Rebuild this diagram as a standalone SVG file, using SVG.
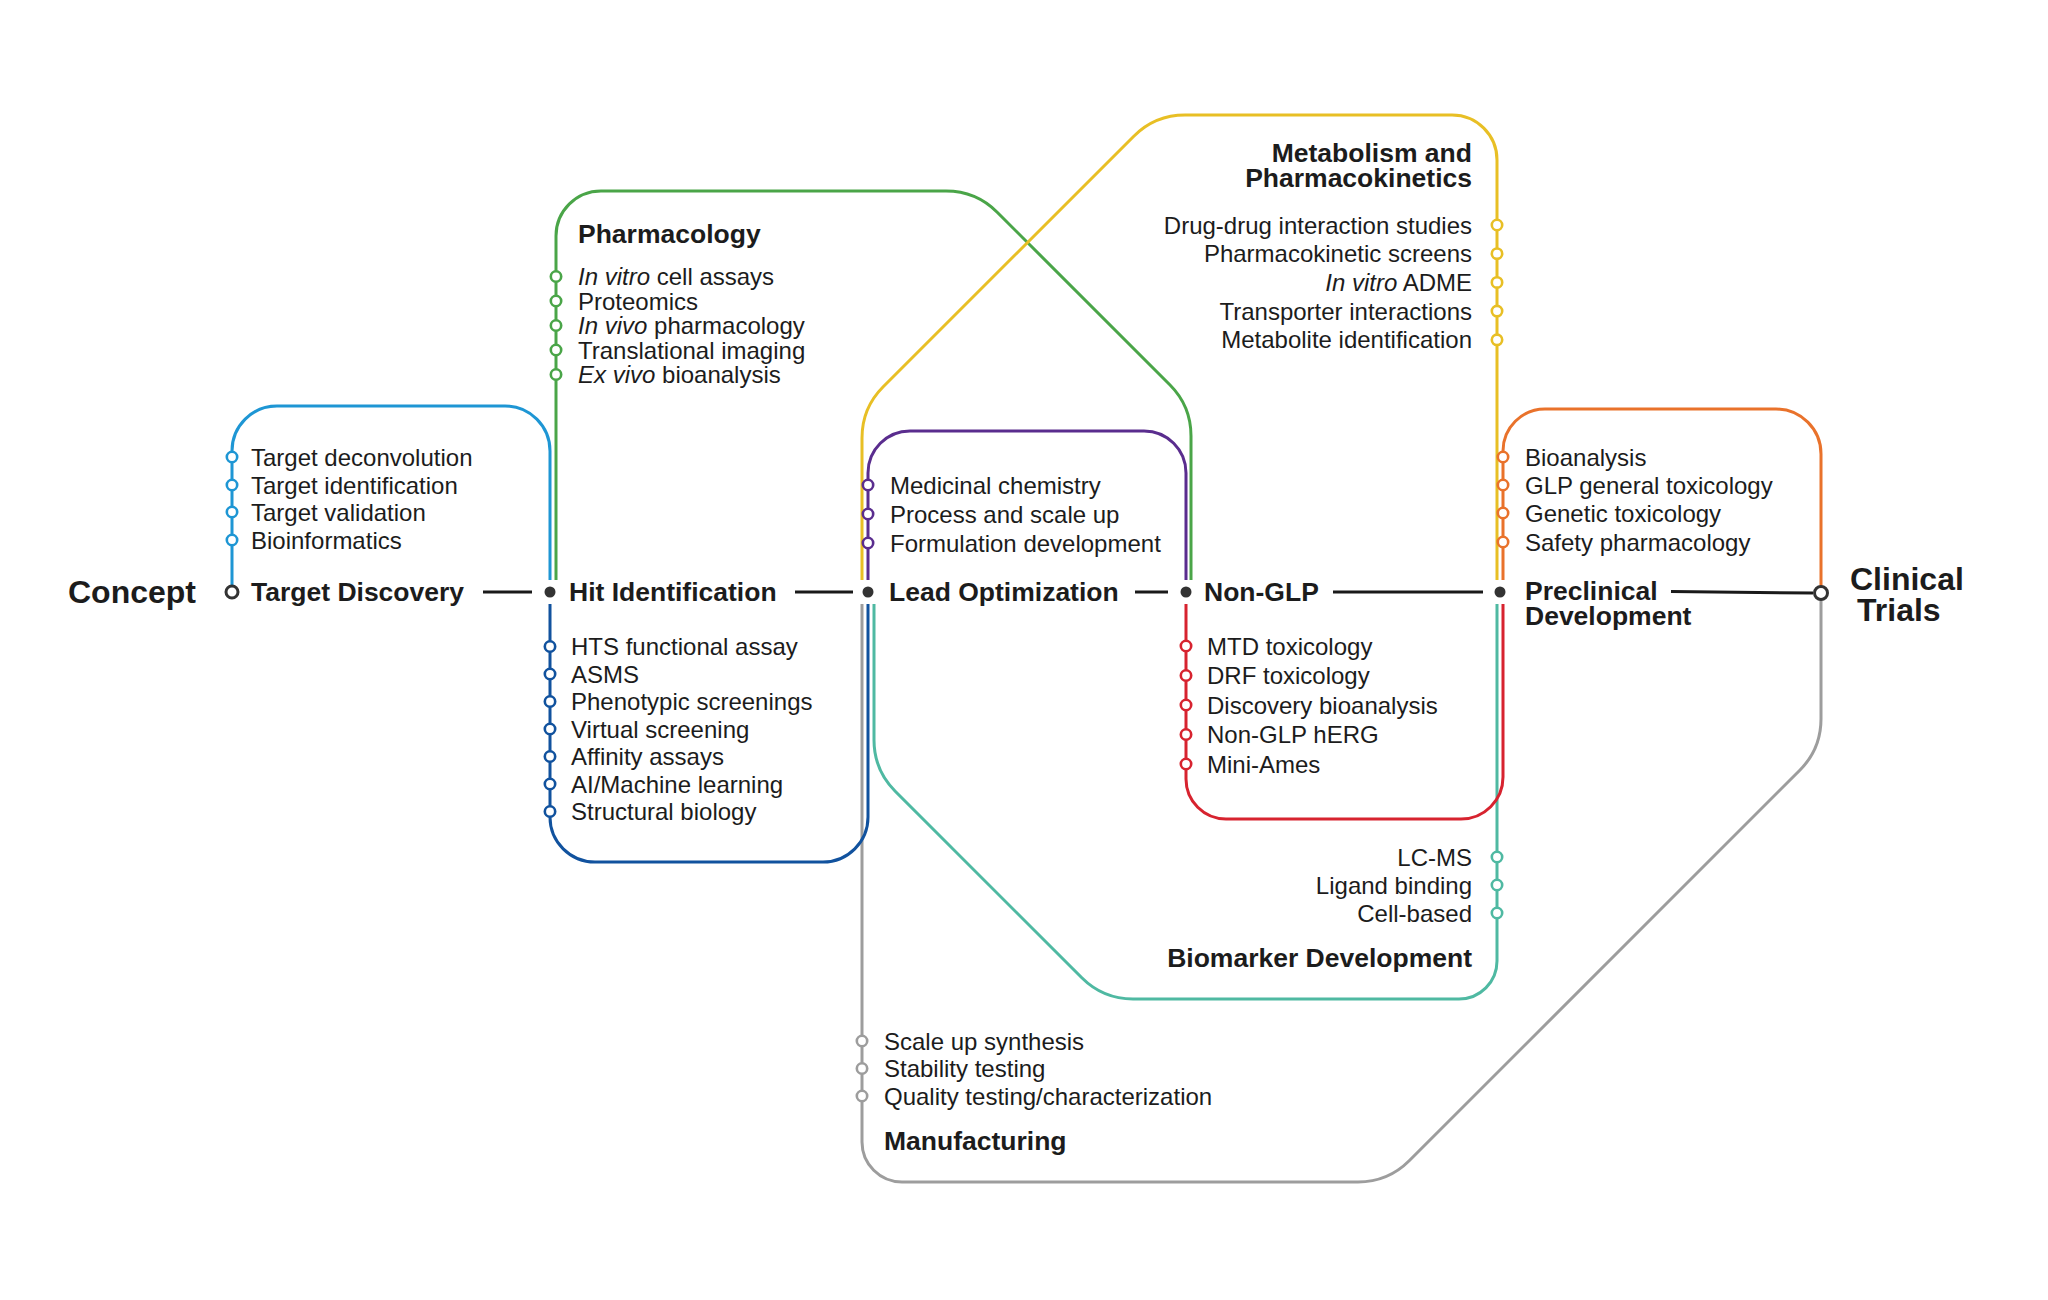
<svg xmlns="http://www.w3.org/2000/svg" width="2048" height="1300" viewBox="0 0 2048 1300">
<style>
.r{fill:none;stroke-width:3}
.st{fill:#fff;stroke-width:2.6}
.t{font-family:"Liberation Sans",Arial,sans-serif;font-size:24px;fill:#1c1c1c}
.e{text-anchor:end}
.h{font-family:"Liberation Sans",Arial,sans-serif;font-weight:bold;font-size:26.5px;fill:#1c1c1c}
.big{font-family:"Liberation Sans",Arial,sans-serif;font-weight:bold;font-size:32px;fill:#1c1c1c}
.i{font-style:italic}
.dot{fill:#333}
.lb{stroke:#1e96d4}.gr{stroke:#4aa548}.db{stroke:#11529e}.ye{stroke:#e8bf25}.pu{stroke:#5a2d8e}.re{stroke:#d7232f}.or{stroke:#e9722b}.te{stroke:#4fb9a2}.ga{stroke:#9d9d9d}
.main{stroke:#1a1a1a;stroke-width:3;fill:none}
</style>
<rect width="2048" height="1300" fill="#fff"/>
<g id="connectors">
<path class="r lb" d="M232,585 L232,451 A45,45 0 0 1 277,406 L505,406 A45,45 0 0 1 550,451 L550,580"/>
<path class="r gr" d="M556,580 L556,236 A45,45 0 0 1 601,191 L946,191 Q976,191 997.2,212.2 L1169.8,384.8 Q1191,406 1191,436 L1191,580"/>
<path class="r ye" d="M862,580 L862,438 Q862,408 883.2,386.8 L1133.8,136.2 Q1155,115 1185,115 L1452,115 A45,45 0 0 1 1497,160 L1497,580"/>
<path class="r pu" d="M868,580 L868,473 A42,42 0 0 1 910,431 L1144,431 A42,42 0 0 1 1186,473 L1186,580"/>
<path class="r or" d="M1503,580 L1503,451 A42,42 0 0 1 1545,409 L1776,409 A45,45 0 0 1 1821,454 L1821,586"/>
<path class="r ga" d="M862,604 L862,1142 A40,40 0 0 0 902,1182 L1358,1182 Q1388,1182 1409.2,1160.8 L1799.8,770.2 Q1821,749 1821,719 L1821,600"/>
<path class="r db" d="M550,604 L550,817 A45,45 0 0 0 595,862 L823,862 A45,45 0 0 0 868,817 L868,604"/>
<path class="r te" d="M874,604 L874,740 Q874,770 895.2,791.2 L1081.8,977.8 Q1103,999 1133,999 L1459,999 A38,38 0 0 0 1497,961 L1497,604"/>
<path class="r re" d="M1186,604 L1186,779 A40,40 0 0 0 1226,819 L1461,819 A42,42 0 0 0 1503,777 L1503,604"/>
<path class="main" d="M483,592 L532,592 M795,592 L853,592 M1135,592 L1168,592 M1333,592 L1483,592 M1671,591.5 L1813,593"/>
</g>
<g id="concept"><text class="big" x="68" y="603">Concept</text></g>
<g id="target-discovery">
<circle cx="232" cy="592" r="6" fill="#fff" stroke="#333" stroke-width="3"/>
<text class="h" x="251" y="601">Target Discovery</text>
<g class="lb"><circle class="st" cx="232" cy="457" r="5.2"/><circle class="st" cx="232" cy="485" r="5.2"/><circle class="st" cx="232" cy="512" r="5.2"/><circle class="st" cx="232" cy="540" r="5.2"/></g>
<text class="t" x="251" y="465.5">Target deconvolution</text>
<text class="t" x="251" y="493.5">Target identification</text>
<text class="t" x="251" y="520.5">Target validation</text>
<text class="t" x="251" y="548.5">Bioinformatics</text>
</g>
<g id="pharmacology">
<text class="h" x="578" y="243">Pharmacology</text>
<g class="gr"><circle class="st" cx="556" cy="276.5" r="5.2"/><circle class="st" cx="556" cy="301" r="5.2"/><circle class="st" cx="556" cy="325.5" r="5.2"/><circle class="st" cx="556" cy="350" r="5.2"/><circle class="st" cx="556" cy="374.5" r="5.2"/></g>
<text class="t" x="578" y="285"><tspan class="i">In vitro</tspan> cell assays</text>
<text class="t" x="578" y="309.5">Proteomics</text>
<text class="t" x="578" y="334"><tspan class="i">In vivo</tspan> pharmacology</text>
<text class="t" x="578" y="358.5">Translational imaging</text>
<text class="t" x="578" y="383"><tspan class="i">Ex vivo</tspan> bioanalysis</text>
</g>
<g id="hit-identification">
<circle class="dot" cx="550" cy="592" r="5.5"/>
<text class="h" x="569" y="601">Hit Identification</text>
<g class="db"><circle class="st" cx="550" cy="646.5" r="5.2"/><circle class="st" cx="550" cy="674" r="5.2"/><circle class="st" cx="550" cy="701.5" r="5.2"/><circle class="st" cx="550" cy="729" r="5.2"/><circle class="st" cx="550" cy="756.5" r="5.2"/><circle class="st" cx="550" cy="784" r="5.2"/><circle class="st" cx="550" cy="811.5" r="5.2"/></g>
<text class="t" x="571" y="655">HTS functional assay</text>
<text class="t" x="571" y="682.5">ASMS</text>
<text class="t" x="571" y="710">Phenotypic screenings</text>
<text class="t" x="571" y="737.5">Virtual screening</text>
<text class="t" x="571" y="765">Affinity assays</text>
<text class="t" x="571" y="792.5">AI/Machine learning</text>
<text class="t" x="571" y="820">Structural biology</text>
</g>
<g id="lead-optimization">
<circle class="dot" cx="868" cy="592" r="5.5"/>
<text class="h" x="889" y="601">Lead Optimization</text>
<g class="pu"><circle class="st" cx="868" cy="485" r="5.2"/><circle class="st" cx="868" cy="514" r="5.2"/><circle class="st" cx="868" cy="543" r="5.2"/></g>
<text class="t" x="890" y="493.5">Medicinal chemistry</text>
<text class="t" x="890" y="522.5">Process and scale up</text>
<text class="t" x="890" y="551.5">Formulation development</text>
</g>
<g id="metabolism-pharmacokinetics">
<text class="h e" x="1472" y="162">Metabolism and</text>
<text class="h e" x="1472" y="187">Pharmacokinetics</text>
<g class="ye"><circle class="st" cx="1497" cy="225" r="5.2"/><circle class="st" cx="1497" cy="253.7" r="5.2"/><circle class="st" cx="1497" cy="282.4" r="5.2"/><circle class="st" cx="1497" cy="311.1" r="5.2"/><circle class="st" cx="1497" cy="339.8" r="5.2"/></g>
<text class="t e" x="1472" y="233.5">Drug-drug interaction studies</text>
<text class="t e" x="1472" y="262.2">Pharmacokinetic screens</text>
<text class="t e" x="1472" y="290.9"><tspan class="i">In vitro</tspan> ADME</text>
<text class="t e" x="1472" y="319.6">Transporter interactions</text>
<text class="t e" x="1472" y="348.3">Metabolite identification</text>
</g>
<g id="non-glp">
<circle class="dot" cx="1186" cy="592" r="5.5"/>
<text class="h" x="1204" y="601">Non-GLP</text>
<g class="re"><circle class="st" cx="1186" cy="646" r="5.2"/><circle class="st" cx="1186" cy="675.5" r="5.2"/><circle class="st" cx="1186" cy="705" r="5.2"/><circle class="st" cx="1186" cy="734.5" r="5.2"/><circle class="st" cx="1186" cy="764" r="5.2"/></g>
<text class="t" x="1207" y="654.5">MTD toxicology</text>
<text class="t" x="1207" y="684">DRF toxicology</text>
<text class="t" x="1207" y="713.5">Discovery bioanalysis</text>
<text class="t" x="1207" y="743">Non-GLP hERG</text>
<text class="t" x="1207" y="772.5">Mini-Ames</text>
</g>
<g id="preclinical-development">
<circle class="dot" cx="1500" cy="592" r="5.5"/>
<text class="h" x="1525" y="600">Preclinical</text>
<text class="h" x="1525" y="625">Development</text>
<g class="or"><circle class="st" cx="1503" cy="457" r="5.2"/><circle class="st" cx="1503" cy="485" r="5.2"/><circle class="st" cx="1503" cy="513" r="5.2"/><circle class="st" cx="1503" cy="542" r="5.2"/></g>
<text class="t" x="1525" y="465.5">Bioanalysis</text>
<text class="t" x="1525" y="493.5">GLP general toxicology</text>
<text class="t" x="1525" y="521.5">Genetic toxicology</text>
<text class="t" x="1525" y="550.5">Safety pharmacology</text>
</g>
<g id="biomarker-development">
<g class="te"><circle class="st" cx="1497" cy="857" r="5.2"/><circle class="st" cx="1497" cy="885" r="5.2"/><circle class="st" cx="1497" cy="913" r="5.2"/></g>
<text class="t e" x="1472" y="865.5">LC-MS</text>
<text class="t e" x="1472" y="893.5">Ligand binding</text>
<text class="t e" x="1472" y="921.5">Cell-based</text>
<text class="h e" x="1472" y="967">Biomarker Development</text>
</g>
<g id="manufacturing">
<g class="ga"><circle class="st" cx="862" cy="1041" r="5.2"/><circle class="st" cx="862" cy="1068.5" r="5.2"/><circle class="st" cx="862" cy="1096" r="5.2"/></g>
<text class="t" x="884" y="1049.5">Scale up synthesis</text>
<text class="t" x="884" y="1077">Stability testing</text>
<text class="t" x="884" y="1104.5">Quality testing/characterization</text>
<text class="h" x="884" y="1150">Manufacturing</text>
</g>
<g id="clinical-trials">
<circle cx="1821" cy="593" r="6.5" fill="#fff" stroke="#333" stroke-width="3"/>
<text class="big" x="1850" y="590">Clinical</text>
<text class="big" x="1857" y="621">Trials</text>
</g>
</svg>
